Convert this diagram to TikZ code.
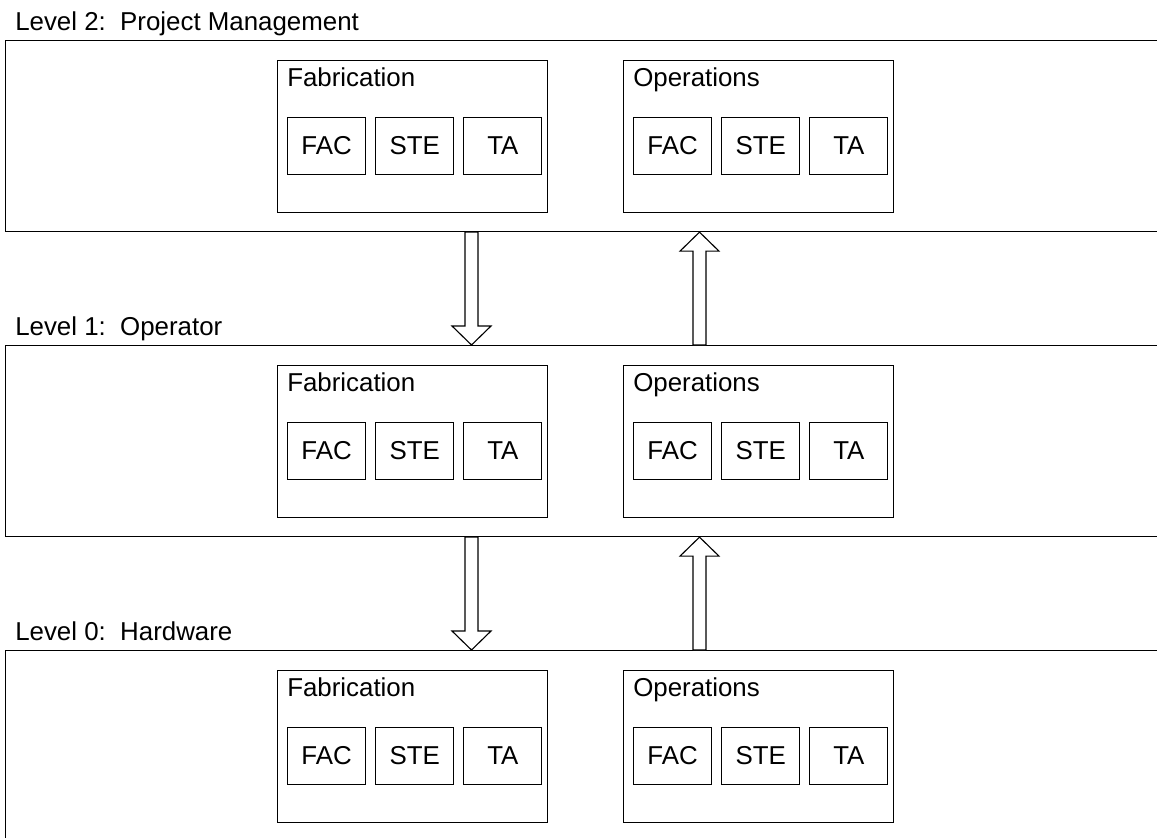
\documentclass[tikz,border=0pt]{standalone}
\usepackage{fontspec}
\setmainfont{Liberation Sans}
\usepackage{tikz}
\usetikzlibrary{calc}
\usetikzlibrary{positioning}

% open block arrow between two points
\newcommand{\hollowarrow}[2]{%
	\path (#1) coordinate (ha-s) (#2) coordinate (ha-e);
	\path ($(ha-e)!0.475cm!(ha-s)$) coordinate (ha-b);
	\draw[blockarrow] ($(ha-s)!0.1625cm!90:(ha-e)$) -- ($(ha-b)!0.1625cm!90:(ha-e)$)
		-- ($(ha-b)!0.4875cm!90:(ha-e)$) -- (ha-e) -- ($(ha-b)!0.4875cm!-90:(ha-e)$)
		-- ($(ha-b)!0.1625cm!-90:(ha-e)$) -- ($(ha-s)!0.1625cm!-90:(ha-e)$) -- cycle;
}

\begin{document}
\begin{tikzpicture}[
			font=\fontsize{18.4}{22}\selectfont,
			level/.style={draw, line width=0.8pt, minimum width=28.875cm, minimum height=4.775cm, inner sep=0pt, anchor=north west},
			group/.style={draw, line width=0.8pt, minimum width=6.75cm, minimum height=3.8cm, inner sep=0pt, anchor=north west},
			item/.style={draw, line width=0.8pt, minimum width=1.95cm, minimum height=1.425cm, inner sep=0pt},
			lbl/.style={anchor=base west, inner sep=0pt},
			blockarrow/.style={draw, line width=0.8pt, fill=white, line join=miter},
			]
			\useasboundingbox (0,0) rectangle (28.925,-20.925);
			\clip (0,0) rectangle (28.925,-20.925);
			\foreach \lv/\title/\ytop in {2/Project Management/-1.0, 1/Operator/-8.625, 0/Hardware/-16.25} {
				\node[level] (lvl\lv) at (0.125,\ytop) {};
				\node[lbl] (title\lv) at ([shift={(0.25,0.25)}]lvl\lv.north west) {Level \lv:\ \ \title};
				\foreach \g/\gname/\gx in {fab/Fabrication/6.8, ops/Operations/15.45} {
					\node[group] (\g\lv) at ([shift={(\gx,-0.5)}]lvl\lv.north west) {};
					\node[lbl] (\g\lv-name) at ([shift={(0.25,-0.65)}]\g\lv.north west) {\gname};
					\node[item, anchor=north west] (\g\lv-fac) at ([shift={(0.25,-1.425)}]\g\lv.north west) {FAC};
					\node[item, right=0.225cm of \g\lv-fac] (\g\lv-ste) {STE};
					\node[item, right=0.225cm of \g\lv-ste] (\g\lv-ta) {TA};
				}
			}
			% requests go down, reports come back up
			\coordinate (dnx) at (11.7875,0);
			\coordinate (upx) at (17.4875,0);
			\foreach \a/\b in {2/1, 1/0} {
				\hollowarrow{lvl\a.south -| dnx}{lvl\b.north -| dnx}
				\hollowarrow{lvl\b.north -| upx}{lvl\a.south -| upx}
			}
		\end{tikzpicture}
\end{document}
